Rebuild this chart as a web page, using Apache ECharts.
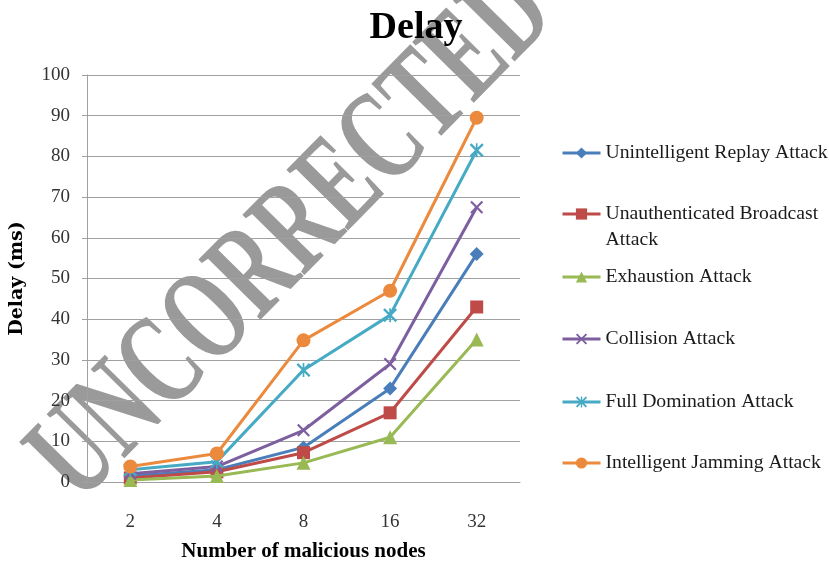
<!DOCTYPE html>
<html>
<head>
<meta charset="utf-8">
<script src="https://cdn.jsdelivr.net/npm/echarts@6/dist/echarts.min.js"></script>
<style>html,body{margin:0;padding:0;background:#fff;}#c{width:829px;height:567px;}</style>
</head>
<body>
<div id="c"></div>
<script>
const categories = ['2', '4', '8', '16', '32'];
const replay = [1.5, 3, 8.5, 23, 56];
const broadcast = [1, 2.5, 7.2, 17, 43];
const exhaustion = [0.5, 1.5, 4.7, 11, 35];
const collision = [2, 3.8, 12.7, 29, 67.5];
const fullDomination = [3, 5, 27.5, 41, 81.5];
const jamming = [3.8, 7, 34.8, 47, 89.5];
const seriesNames = ['Unintelligent Replay Attack', 'Unauthenticated Broadcast Attack', 'Exhaustion Attack', 'Collision Attack', 'Full Domination Attack', 'Intelligent Jamming Attack'];

const FONT = 'Liberation Serif';
const colors = ['#4A7EBB', '#BE4B48', '#98B954', '#7D5FA0', '#46AAC5', '#EB8A3C'];
const xPath = 'path://M0,1.2L1.2,0L5,3.8L8.8,0L10,1.2L6.2,5L10,8.8L8.8,10L5,6.2L1.2,10L0,8.8L3.8,5Z';
const starPath = xPath + 'M4.4,0L5.6,0L5.6,10L4.4,10Z';
const symbols = ['diamond', 'rect', 'triangle', xPath, starPath, 'circle'];
const symbolSizes = [14, 13, 14, 13, 14, 14];
const dataSets = [replay, broadcast, exhaustion, collision, fullDomination, jamming];

const legendCenters = [153, 214, 277, 339, 402, 463];
const legends = seriesNames.map((n, i) => {
  const multi = i === 1;
  return {
    data: [n],
    orient: 'vertical',
    left: 561,
    top: multi ? legendCenters[i] - 39 : legendCenters[i] - 11,
    padding: 0,
    itemWidth: 38,
    itemHeight: 14,
    lineStyle: {width: 3},
    formatter: multi ? ' \nUnauthenticated Broadcast\nAttack' : '{name}',
    textStyle: {fontFamily: FONT, fontSize: 19.7, color: '#1a1a1a', lineHeight: multi ? 26 : 22}
  };
});

const chart = echarts.init(document.getElementById('c'));
chart.setOption({
  animation: false,
  color: colors,
  title: {
    text: 'Delay',
    left: 411,
    textAlign: 'center',
    top: 4,
    textStyle: {fontFamily: FONT, fontSize: 38, fontWeight: 'bold', color: '#000'}
  },
  graphic: [{
    type: 'text',
    x: 294,
    y: 237,
    rotation: 45.5 * Math.PI / 180,
    scaleX: 0.66,
    z: -10,
    silent: true,
    style: {
      text: 'UNCORRECTED',
      font: 'bold 132px "Liberation Serif"',
      fill: '#9a9a9a',
      align: 'center',
      verticalAlign: 'middle'
    }
  }],
  legend: legends,
  grid: {left: 82, right: 309, top: 75, bottom: 74, containLabel: false},
  xAxis: {
    type: 'category',
    data: categories,
    boundaryGap: true,
    name: 'Number of malicious nodes',
    nameLocation: 'middle',
    nameGap: 59,
    nameTextStyle: {fontFamily: FONT, fontSize: 21, fontWeight: 'bold', color: '#000'},
    axisLine: {lineStyle: {color: '#A0A0A0', width: 1}},
    axisTick: {show: false},
    axisLabel: {fontFamily: FONT, fontSize: 19, color: '#333', margin: 31}
  },
  yAxis: {
    type: 'value',
    min: 0,
    max: 100,
    interval: 10,
    name: 'Delay (ms)',
    nameLocation: 'middle',
    nameRotate: 90,
    nameGap: 60,
    nameTextStyle: {fontFamily: 'DejaVu Serif', fontSize: 19, fontWeight: 'bold', color: '#000'},
    axisLine: {show: true, lineStyle: {color: '#A0A0A0', width: 1}},
    axisTick: {show: true, length: 5, lineStyle: {color: '#A0A0A0'}},
    splitLine: {lineStyle: {color: '#A0A0A0', width: 1}},
    axisLabel: {fontFamily: FONT, fontSize: 19, color: '#333', margin: 17}
  },
  series: seriesNames.map((n, i) => ({
    name: n,
    type: 'line',
    data: dataSets[i],
    symbol: symbols[i],
    symbolSize: symbolSizes[i],
    showAllSymbol: true,
    lineStyle: {width: 3, color: colors[i]},
    itemStyle: {color: colors[i]},
    z: 3 + i
  }))
});
</script>
</body>
</html>
